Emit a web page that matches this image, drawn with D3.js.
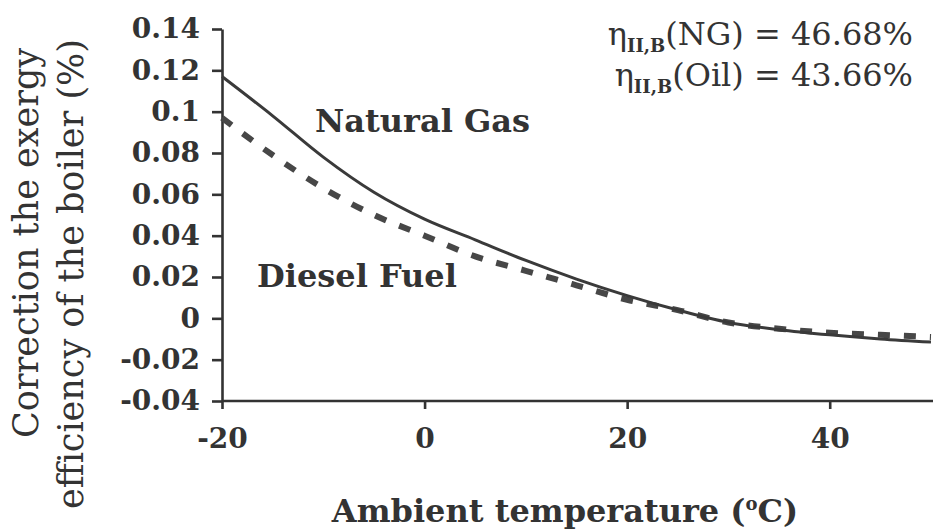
<!DOCTYPE html>
<html>
<head>
<meta charset="utf-8">
<script src="https://cdn.jsdelivr.net/npm/d3@7"></script>
<style>
  html, body { margin: 0; padding: 0; background: #fff; }
  svg { display: block; }
</style>
</head>
<body>
<svg id="chart" width="933" height="530"></svg>
<script>
// Ambient temperature (°C) sampled every 5 degrees
const temperatures = [-20, -15, -10, -5, 0, 5, 10, 15, 20, 25, 30, 35, 40, 45, 50];
// Correction of boiler exergy efficiency (%) for each fuel
const naturalGas = [0.117, 0.098, 0.078, 0.061, 0.048, 0.038, 0.028, 0.019, 0.011, 0.004, -0.002, -0.0055, -0.008, -0.010, -0.0115];
const dieselFuel = [0.097, 0.079, 0.063, 0.050, 0.040, 0.030, 0.023, 0.016, 0.009, 0.004, -0.002, -0.005, -0.007, -0.008, -0.009];
const xTicks = [-20, 0, 20, 40];
const yTicks = [-0.04, -0.02, 0, 0.02, 0.04, 0.06, 0.08, 0.1, 0.12, 0.14];
// Boiler exergy efficiency per fuel
const efficiencyFuels = ["NG", "Oil"];
const efficiencyValues = ["46.68%", "43.66%"];

const ink = "#333";
const serif = "'DejaVu Serif', serif";
// plain hyphen for negatives
const plain = d => String(+d.toFixed(2));

const svg = d3.select("#chart");
const x = d3.scaleLinear().domain([-20, 50]).range([222, 931]);
const y = d3.scaleLinear().domain([-0.04, 0.14]).range([401, 29]);

// Axes
const yAxis = svg.append("g")
  .attr("transform", `translate(${x(-20)},0)`)
  .call(d3.axisLeft(y).tickValues(yTicks).tickSize(10).tickSizeOuter(0).tickPadding(12)
    .tickFormat(plain));
const xAxis = svg.append("g")
  .attr("transform", `translate(0,${y(-0.04)})`)
  .call(d3.axisBottom(x).tickValues(xTicks).tickSize(8).tickSizeOuter(0).tickPadding(19)
    .tickFormat(plain));

[yAxis, xAxis].forEach(g => {
  g.select(".domain").attr("stroke", ink).attr("stroke-width", 2.6);
  g.selectAll(".tick line").attr("stroke", ink).attr("stroke-width", 2.6);
  g.selectAll(".tick text")
    .attr("fill", ink)
    .style("font-family", serif)
    .style("font-weight", "bold")
    .style("font-size", "28px");
});
xAxis.select(".domain").attr("d", `M${x(-20)},0H933`);

// Series lines
const line = d3.line()
  .x((d, i) => x(temperatures[i]))
  .y(d => y(d))
  .curve(d3.curveMonotoneX);

svg.append("path")
  .datum(dieselFuel)
  .attr("d", line)
  .attr("fill", "none")
  .attr("stroke", "#474747")
  .attr("stroke-width", 6)
  .attr("stroke-dasharray", "12,14");

svg.append("path")
  .datum(naturalGas)
  .attr("d", line)
  .attr("fill", "none")
  .attr("stroke", "#3a3a3a")
  .attr("stroke-width", 3);

// Series labels
const label = (txt, px, py) => svg.append("text")
  .attr("x", px).attr("y", py)
  .attr("fill", ink)
  .style("font-family", serif)
  .style("font-weight", "bold")
  .style("font-size", "32px")
  .text(txt);
label("Natural Gas", 315, 132);
label("Diesel Fuel", 257, 287);

// Axis titles
svg.append("text")
  .attr("x", 565).attr("y", 522)
  .attr("text-anchor", "middle")
  .attr("fill", ink)
  .style("font-family", serif)
  .style("font-weight", "bold")
  .style("font-size", "32px")
  .call(t => {
    t.append("tspan").text("Ambient temperature (");
    t.append("tspan").attr("dy", -12).style("font-size", "18px").text("o");
    t.append("tspan").attr("dy", 12).text("C)");
  });

const yTitle = svg.append("g")
  .attr("fill", ink)
  .style("font-family", serif)
  .style("font-size", "35px");
yTitle.append("text")
  .attr("transform", "translate(38,243) rotate(-90)")
  .attr("text-anchor", "middle")
  .text("Correction the exergy");
yTitle.append("text")
  .attr("transform", "translate(83,274) rotate(-90)")
  .attr("text-anchor", "middle")
  .text("efficiency of the boiler (%)");

// Efficiency annotation
const note = svg.append("g")
  .attr("fill", ink)
  .style("font-family", serif)
  .style("font-size", "32px");
efficiencyFuels.forEach((fuel, i) => {
  const t = note.append("text")
    .attr("x", 913).attr("y", 45 + i * 41)
    .attr("text-anchor", "end");
  t.append("tspan").text("η");
  t.append("tspan").attr("dy", 7).style("font-size", "18px").style("font-weight", "bold").text("II,B");
  t.append("tspan").attr("dy", -7).text(`(${fuel}) = ${efficiencyValues[i]}`);
});
</script>
</body>
</html>
